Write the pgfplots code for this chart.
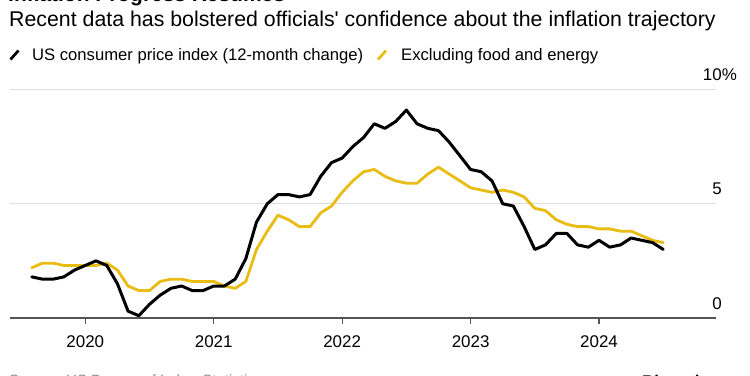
\documentclass[border=0pt]{standalone}
\usepackage{fontspec}
\setmainfont{Liberation Sans}
\usepackage{pgfplots}
\pgfplotsset{compat=1.18}
\usepackage{pgfplotstable}
\definecolor{cpiyellow}{RGB}{232,188,18}
\definecolor{gridgray}{RGB}{222,222,222}
\definecolor{axisgray}{RGB}{85,85,85}
\definecolor{srcgray}{RGB}{140,140,140}

\pgfplotstableread{
x cpi core
2019.583 1.8 2.2
2019.667 1.7 2.4
2019.750 1.7 2.4
2019.833 1.8 2.3
2019.917 2.1 2.3
2020.000 2.3 2.3
2020.083 2.5 2.3
2020.167 2.3 2.4
2020.250 1.5 2.1
2020.333 0.3 1.4
2020.417 0.1 1.2
2020.500 0.6 1.2
2020.583 1.0 1.6
2020.667 1.3 1.7
2020.750 1.4 1.7
2020.833 1.2 1.6
2020.917 1.2 1.6
2021.000 1.4 1.6
2021.083 1.4 1.4
2021.167 1.7 1.3
2021.250 2.6 1.6
2021.333 4.2 3.0
2021.417 5.0 3.8
2021.500 5.4 4.5
2021.583 5.4 4.3
2021.667 5.3 4.0
2021.750 5.4 4.0
2021.833 6.2 4.6
2021.917 6.8 4.9
2022.000 7.0 5.5
2022.083 7.5 6.0
2022.167 7.9 6.4
2022.250 8.5 6.5
2022.333 8.3 6.2
2022.417 8.6 6.0
2022.500 9.1 5.9
2022.583 8.5 5.9
2022.667 8.3 6.3
2022.750 8.2 6.6
2022.833 7.7 6.3
2022.917 7.1 6.0
2023.000 6.5 5.7
2023.083 6.4 5.6
2023.167 6.0 5.5
2023.250 5.0 5.6
2023.333 4.9 5.5
2023.417 4.0 5.3
2023.500 3.0 4.8
2023.583 3.2 4.7
2023.667 3.7 4.3
2023.750 3.7 4.1
2023.833 3.2 4.0
2023.917 3.1 4.0
2024.000 3.4 3.9
2024.083 3.1 3.9
2024.167 3.2 3.8
2024.250 3.5 3.8
2024.333 3.4 3.6
2024.417 3.3 3.4
2024.500 3.0 3.3
}\datatable

\begin{document}
\begin{tikzpicture}[x=1bp,y=1bp]
\useasboundingbox (0,0) rectangle (750,375);
\node[anchor=base west, inner sep=0, font=\fontsize{21}{25}\selectfont\bfseries] at (8,373.5) {Inflation Progress Resumes};
\node[anchor=base west, inner sep=0, font=\fontsize{21.4}{25}\selectfont] at (9,349) {Recent data has bolstered officials\textquotesingle{} confidence about the inflation trajectory};
\draw[line width=2.7bp, black] (10.5,315.5) -- (18.5,324.5);
\node[anchor=base west, inner sep=0, font=\fontsize{16.7}{20}\selectfont] at (32,315) {US consumer price index (12-month change)};
\draw[line width=2.7bp, cpiyellow] (378,315.5) -- (386,324.5);
\node[anchor=base west, inner sep=0, font=\fontsize{16.7}{20}\selectfont] at (401,315) {Excluding food and energy};

\begin{axis}[
  at={(10bp,57bp)}, anchor=south west,
  scale only axis, width=706bp, height=228.5bp,
  xmin=2019.4136, xmax=2024.911, ymin=0, ymax=10,
  axis x line*=bottom, axis y line*=right,
  x axis line style={draw=axisgray, line width=1.3bp, -},
  y axis line style={draw=none},
  xtick={2020,2021,2022,2023,2024},
  xticklabels={2020,2021,2022,2023,2024},
  ytick={0,5,10},
  yticklabels={0,5,10\rlap{\%}},
  tick align=outside,
  major tick length=6bp,
  xtick style={draw=axisgray, line width=1.3bp},
  ytick style={draw=none},
  ymajorgrids,
  grid style={draw=gridgray, line width=1.3bp},
  xticklabel style={font=\fontsize{17}{20}\selectfont, anchor=base, inner sep=0, yshift=-23bp},
  yticklabel style={font=\fontsize{17}{20}\selectfont, anchor=base east, inner sep=0, yshift=9bp},
  /pgf/number format/assume math mode=true,
]
\addplot[cpiyellow, line width=2.8bp, line join=round, line cap=round] table[x=x,y=core]{\datatable};
\addplot[black, line width=3bp, line join=round, line cap=round] table[x=x,y=cpi]{\datatable};
\end{axis}

\node[anchor=base west, inner sep=0, font=\fontsize{15}{18}\selectfont, text=srcgray] at (9,-10.5) {Source: US Bureau of Labor Statistics};
\node[anchor=base west, inner sep=0, font=\fontsize{17}{20}\selectfont\bfseries] at (642,-12) {Bloomberg};
\end{tikzpicture}
\end{document}
